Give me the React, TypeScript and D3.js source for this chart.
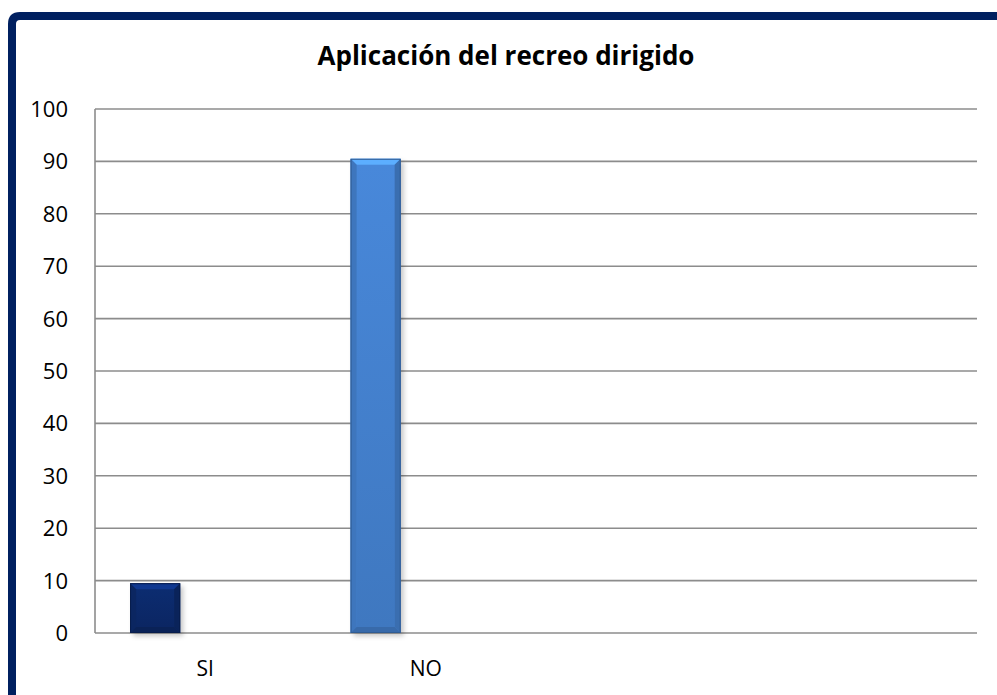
import React, { useEffect, useRef } from 'react';
import * as d3 from 'd3';

// data
const categories = ['SI', 'NO', '', ''];
const values = [9.5, 90.5];
const barColors = ['#0c2a6c', '#4583d2'];
const yTicks = [0, 10, 20, 30, 40, 50, 60, 70, 80, 90, 100];
const slots = ['a', 'b', 'c'];
const title = 'Aplicación del recreo dirigido';

const W = 997;
const H = 695;
const plot = { left: 95, right: 977, top: 109, bottom: 633 };

const App: React.FC = () => {
  const ref = useRef<SVGSVGElement>(null);

  useEffect(() => {
    const { current: node } = ref;
    if (!node) return;
    const svg = d3.select(node);
    svg.selectAll('*').remove();

    const font = '"Open Sans", "DejaVu Sans", sans-serif';

    const x = d3
      .scaleBand<number>()
      .domain(categories.map((_, i) => i))
      .range([plot.left, plot.right])
      .padding(0);
    const xs = d3
      .scaleBand<string>()
      .domain(slots)
      .range([0, x.bandwidth()])
      .paddingInner(0)
      .paddingOuter(0.7);
    const y = d3.scaleLinear().domain([0, 100]).range([plot.bottom, plot.top]);

    const defs = svg.append('defs');
    const f = defs
      .append('filter')
      .attr('id', 'shadow')
      .attr('x', '-20%')
      .attr('y', '-5%')
      .attr('width', '150%')
      .attr('height', '120%');
    f.append('feDropShadow')
      .attr('dx', 3)
      .attr('dy', 3)
      .attr('stdDeviation', 2.5)
      .attr('flood-color', '#000')
      .attr('flood-opacity', 0.22);

    // background
    svg.append('rect').attr('width', W).attr('height', H).attr('fill', '#fff');

    // outer frame (only left/top visible)
    svg
      .append('path')
      .attr('d', `M12,${H + 10} L12,24 Q12,16 20,16 L${W + 10},16`)
      .attr('fill', 'none')
      .attr('stroke', '#002060')
      .attr('stroke-width', 8);

    // gridlines
    svg
      .append('g')
      .selectAll('line')
      .data(yTicks)
      .join('line')
      .attr('x1', plot.left)
      .attr('x2', plot.right)
      .attr('y1', (d) => y(d))
      .attr('y2', (d) => y(d))
      .attr('stroke', '#8c8c8c')
      .attr('stroke-width', 1.6);

    // y axis line
    svg
      .append('line')
      .attr('x1', plot.left)
      .attr('x2', plot.left)
      .attr('y1', plot.top)
      .attr('y2', plot.bottom)
      .attr('stroke', '#8c8c8c')
      .attr('stroke-width', 1.6);

    // y tick labels
    svg
      .append('g')
      .selectAll('text')
      .data(yTicks)
      .join('text')
      .attr('x', 68)
      .attr('y', (d) => y(d))
      .attr('dy', '0.36em')
      .attr('text-anchor', 'end')
      .attr('font-family', font)
      .attr('font-size', 22)
      .attr('fill', '#000')
      .text((d) => d);

    // x labels
    svg
      .append('g')
      .selectAll('text')
      .data(categories)
      .join('text')
      .attr('x', (_, i) => x(i)! + x.bandwidth() / 2)
      .attr('y', 676)
      .attr('text-anchor', 'middle')
      .attr('font-family', font)
      .attr('font-size', 21)
      .attr('fill', '#000')
      .text((d) => d);

    // bars with bevel
    const bev = 6;
    values.forEach((v, i) => {
      const x0 = x(i)! + xs('a')!;
      const w = xs.bandwidth();
      const y0 = y(v);
      const y1 = y(0);
      const base = d3.color(barColors[i])!;
      const g = svg.append('g');
      g.append('rect')
        .attr('x', x0)
        .attr('y', y0)
        .attr('width', w)
        .attr('height', y1 - y0)
        .attr('fill', base.toString())
        .attr('filter', 'url(#shadow)');
      const gid = `body${i}`;
      const lg = defs
        .append('linearGradient')
        .attr('id', gid)
        .attr('x1', 0)
        .attr('y1', 0)
        .attr('x2', 0)
        .attr('y2', 1);
      lg.append('stop').attr('offset', 0).attr('stop-color', base.brighter(0.1).toString());
      lg.append('stop').attr('offset', 1).attr('stop-color', base.darker(0.25).toString());
      g.append('rect')
        .attr('x', x0 + bev)
        .attr('y', y0 + bev)
        .attr('width', w - 2 * bev)
        .attr('height', Math.max(0, y1 - y0 - 2 * bev))
        .attr('fill', `url(#${gid})`);
      // top bevel
      g.append('path')
        .attr('d', `M${x0},${y0} L${x0 + w},${y0} L${x0 + w - bev},${y0 + bev} L${x0 + bev},${y0 + bev} Z`)
        .attr('fill', base.brighter(0.8).toString());
      // left bevel
      g.append('path')
        .attr('d', `M${x0},${y0} L${x0 + bev},${y0 + bev} L${x0 + bev},${y1 - bev} L${x0},${y1} Z`)
        .attr('fill', base.darker(0.3).toString());
      // right bevel
      g.append('path')
        .attr('d', `M${x0 + w},${y0} L${x0 + w - bev},${y0 + bev} L${x0 + w - bev},${y1 - bev} L${x0 + w},${y1} Z`)
        .attr('fill', base.darker(0.5).toString());
      // bottom bevel
      g.append('path')
        .attr('d', `M${x0},${y1} L${x0 + bev},${y1 - bev} L${x0 + w - bev},${y1 - bev} L${x0 + w},${y1} Z`)
        .attr('fill', base.darker(0.6).toString());
      g.append('rect')
        .attr('x', x0 + 0.5)
        .attr('y', y0 + 0.5)
        .attr('width', w - 1)
        .attr('height', y1 - y0 - 1)
        .attr('fill', 'none')
        .attr('stroke', base.darker(1).toString())
        .attr('stroke-width', 1);
    });

    // title
    svg
      .append('text')
      .attr('x', 506)
      .attr('y', 65)
      .attr('text-anchor', 'middle')
      .attr('font-family', font)
      .attr('font-weight', 'bold')
      .attr('font-size', 26)
      .attr('fill', '#000')
      .text(title);
  }, []);

  return (
    <svg
      ref={ref}
      width={W}
      height={H}
      style={{ position: 'absolute', left: 0, top: 0, display: 'block' }}
    />
  );
};

export default App;
